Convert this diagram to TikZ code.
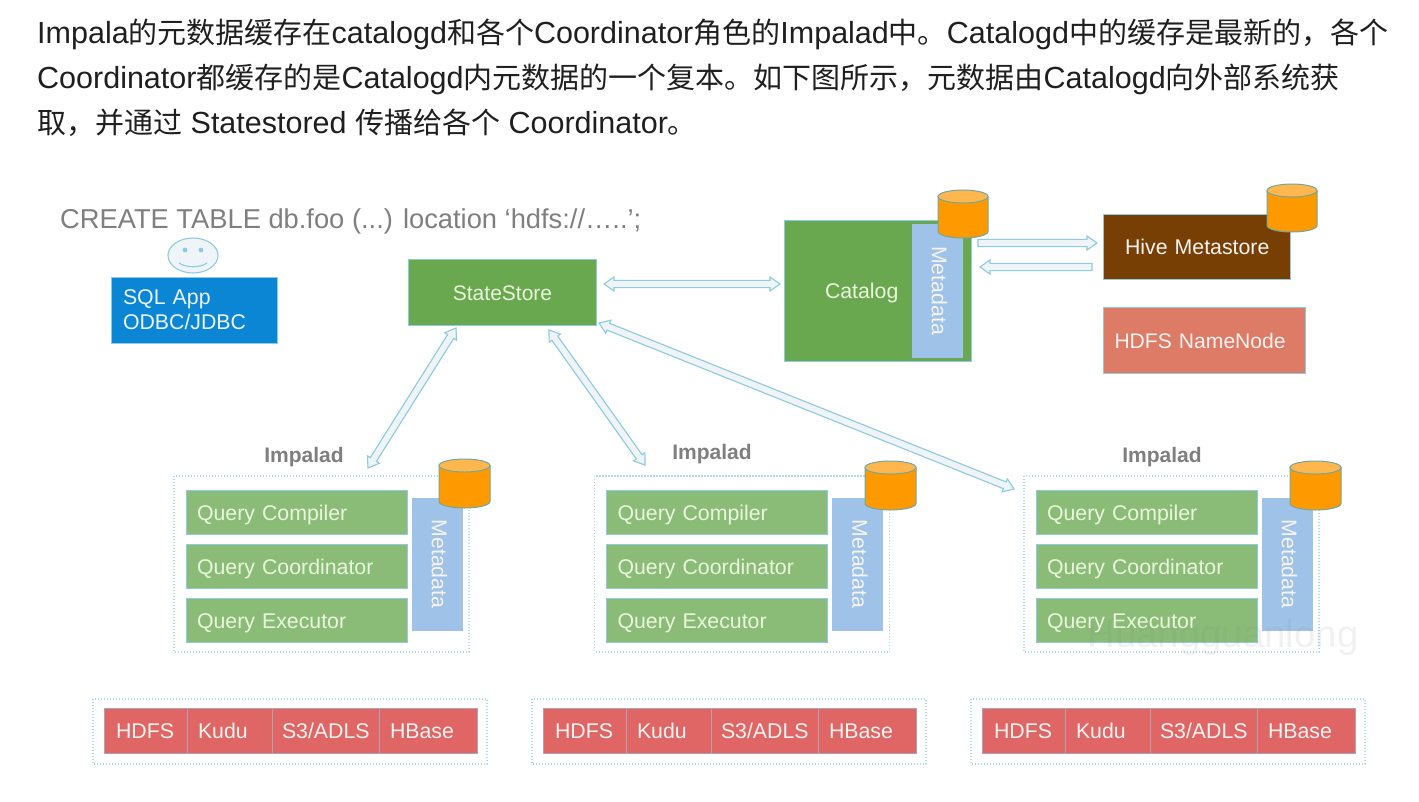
\documentclass[tikz,border=0pt]{standalone}
\usepackage{fontspec}
\setmainfont{Liberation Sans}
\newfontfamily\cjk{Noto Sans CJK SC}
\usetikzlibrary{calc}
\newcommand\fs[1]{\fontsize{#1}{#1}\selectfont}
\newcommand\zh[1]{{\cjk\fs{29}#1}}
\definecolor{edgeblue}{HTML}{8CCBE0}
\definecolor{arrowfill}{HTML}{EEF4F8}
\definecolor{querygreen}{HTML}{8ABC78}
\definecolor{darkgreen}{HTML}{69A84F}
\definecolor{metablue}{HTML}{9FC3E8}
\definecolor{sqlblue}{HTML}{0A86D4}
\definecolor{hivebrown}{HTML}{783F04}
\definecolor{nnsalmon}{HTML}{DD7B66}
\definecolor{storered}{HTML}{E06666}
\definecolor{cylorange}{HTML}{FF9900}
\definecolor{cyltop}{HTML}{FFB74D}
\definecolor{cyledge}{HTML}{6FA8A0}
\definecolor{softgreen}{HTML}{EAF6DC}
\definecolor{softwhite}{HTML}{F7F3F0}
\definecolor{labelgrey}{HTML}{7F7F7F}
\tikzset{
  boxnode/.style={draw=edgeblue,line width=.9pt,font=\fs{21.3},outer sep=0pt},
  lowered/.style={text height=16pt,text depth=0pt},
  querybox/.style={boxnode,lowered,fill=querygreen,text=softgreen,align=left},
  metabox/.style={draw=metablue,fill=metablue,text=softwhite,font=\fs{21.3},inner sep=0pt,outer sep=0pt,text height=15pt,text depth=4.5pt},
  cellbox/.style={boxnode,lowered,fill=storered,text=softwhite,align=left,draw=edgeblue!60!storered},
  dotbox/.style={draw=edgeblue!70,line width=1.2pt,dash pattern=on 1.4pt off 1.6pt},
  grouplabel/.style={font=\bfseries\fs{21},text=labelgrey,inner sep=0pt},
  topline/.style={font=\fs{30.5},text=black!88,anchor=base west,inner sep=0pt},
  blockedge/.style={draw=edgeblue,fill=arrowfill,line width=1.1pt,line join=miter},
}
% box from corner coordinates: style, name, x1,y1,x2,y2, text padding, text
\newcommand\bx[8]{%
  \pgfmathsetmacro\bw{#5-#3}\pgfmathsetmacro\bh{#6-#4}%
  \pgfmathsetmacro\bcx{(#3+#5)/2}\pgfmathsetmacro\bcy{(#4+#6)/2}%
  \pgfmathsetmacro\tw{\bw-2*#7}%
  \node[inner xsep=#7pt,inner ysep=0pt,minimum width=\bw pt,minimum height=\bh pt,text width=\tw pt,#1] (#2) at (\bcx,\bcy) {#8};}
% two-headed hollow arrow between named coordinates
\newcommand\twoway[2]{%
  \path ($(#1)!10pt!(#2)$) coordinate (ha) ($(#2)!10pt!(#1)$) coordinate (hb);
  \draw[blockedge] (#1) -- ($(ha)!7pt!90:(#2)$) -- ($(ha)!3.6pt!90:(#2)$) -- ($(hb)!3.6pt!-90:(#1)$) -- ($(hb)!7pt!-90:(#1)$) -- (#2)
     -- ($(hb)!7pt!90:(#1)$) -- ($(hb)!3.6pt!90:(#1)$) -- ($(ha)!3.6pt!-90:(#2)$) -- ($(ha)!7pt!-90:(#2)$) -- cycle;}
% one-headed hollow arrow
\newcommand\oneway[2]{%
  \path ($(#2)!10pt!(#1)$) coordinate (hb);
  \draw[blockedge] ($(#1)!3.6pt!90:(#2)$) -- ($(hb)!3.6pt!-90:(#1)$) -- ($(hb)!7pt!-90:(#1)$) -- (#2)
     -- ($(hb)!7pt!90:(#1)$) -- ($(hb)!3.6pt!90:(#1)$) -- ($(#1)!3.6pt!-90:(#2)$) -- cycle;}
% database cylinder: x1,x2,ytop,ybottom
\newcommand\dbcyl[4]{%
  \pgfmathsetmacro\cxm{(#1+#2)/2}\pgfmathsetmacro\crx{(#2-#1)/2}%
  \pgfmathsetmacro\ctop{#3+6.5}\pgfmathsetmacro\cbot{#4-6.5}%
  \draw[draw=cyledge,fill=cylorange,line width=1pt] (#1,\ctop) -- (#1,\cbot) arc[start angle=180,end angle=360,x radius=\crx pt,y radius=6.5pt] -- (#2,\ctop) -- cycle;
  \draw[draw=cyledge,fill=cyltop,line width=1pt] (\cxm,\ctop) ellipse[x radius=\crx pt,y radius=6.5pt];}
% one Impalad group: id, dx, label x, label y, cylinder x1, cylinder ytop
\newcommand\impala[6]{%
  \pgfmathsetmacro\xa{174+#2}\pgfmathsetmacro\xb{469+#2}%
  \draw[dotbox] (\xa,476) rectangle (\xb,652);
  \node[grouplabel] (#1label) at (#3,#4) {Impalad};
  \pgfmathsetmacro\qa{186+#2}\pgfmathsetmacro\qb{407+#2}%
  \bx{querybox}{#1comp}{\qa}{490}{\qb}{534}{11}{Query Compiler}
  \bx{querybox}{#1coord}{\qa}{544}{\qb}{588}{11}{Query Coordinator}
  \bx{querybox}{#1exec}{\qa}{598}{\qb}{642}{11}{Query Executor}
  \pgfmathsetmacro\mx{437+#2}%
  \node[metabox,rotate=-90,minimum width=132pt,minimum height=50pt] (#1meta) at (\mx,564) {Metadata};
  \pgfmathsetmacro\cyb{#5+51}\pgfmathsetmacro\cyc{#6+49}%
  \dbcyl{#5}{\cyb}{#6}{\cyc}}
% storage row: id, dx
\newcommand\storage[2]{%
  \pgfmathsetmacro\xa{93+#2}\pgfmathsetmacro\xb{487+#2}%
  \draw[dotbox] (\xa,699) rectangle (\xb,764);
  \pgfmathsetmacro\ca{104+#2}\pgfmathsetmacro\cb{187+#2}\pgfmathsetmacro\cc{272+#2}\pgfmathsetmacro\cd{379+#2}\pgfmathsetmacro\ce{477+#2}%
  \edef\pa{\ca}\edef\pb{\cb}\edef\pc{\cc}\edef\pd{\cd}\edef\pe{\ce}%
  \bx{cellbox}{#1hdfs}{\pa}{708}{\pb}{753}{12}{HDFS}
  \bx{cellbox}{#1kudu}{\pb}{708}{\pc}{753}{11}{Kudu}
  \bx{cellbox}{#1s3}{\pc}{708}{\pd}{753}{10}{S3/ADLS}
  \bx{cellbox}{#1hbase}{\pd}{708}{\pe}{753}{11}{HBase}}
\begin{document}
\begin{tikzpicture}[x=1pt,y=-1pt]
\useasboundingbox (0,0) rectangle (1419,801);
\fill[white] (0,0) rectangle (1419,801);
% heading paragraph
\node[topline] (line1) at (37,43) {Impala\zh{的元数据缓存在}catalogd\zh{和各个}Coordinator\zh{角色的}Impalad\zh{中。}Catalogd\zh{中的缓存是最新的，各个}};
\node[topline] (line2) at (37,88) {Coordinator\zh{都缓存的是}Catalogd\zh{内元数据的一个复本。如下图所示，元数据由}Catalogd\zh{向外部系统获}};
\node[topline] (line3) at (37,133) {\zh{取，并通过} Statestored \zh{传播给各个} Coordinator\zh{。}};
% client
\node[font=\fs{27.3},text=labelgrey,anchor=base west,inner sep=0pt] (create) at (60,228) {CREATE TABLE db.foo (...) location ‘hdfs://…..’;};
\draw[draw=edgeblue,fill=arrowfill,line width=1.1pt] (193,255.5) ellipse[x radius=25pt,y radius=17.5pt];
\fill[edgeblue] (185,250) circle (2.4pt) (201,250) circle (2.4pt);
\draw[edgeblue,line width=1.1pt] (179,263) .. controls (186,268) and (200,268) .. (207,263);
\bx{boxnode,fill=sqlblue,text=arrowfill,align=left}{sql}{111.5}{277}{277}{343}{11.5}{SQL App\\[4pt]ODBC/JDBC}
% upper services
\bx{boxnode,lowered,fill=darkgreen,text=softgreen,align=center,font=\fs{21}}{state}{408.5}{259.5}{596.5}{325}{0}{StateStore}
\bx{boxnode,lowered,fill=darkgreen,text=softgreen,align=left}{catalog}{784}{220}{971}{361}{41}{Catalog}
\node[metabox,rotate=-90,minimum width=133pt,minimum height=50pt] (catmeta) at (937,290.5) {Metadata};
\dbcyl{938}{988}{190}{238}
\bx{boxnode,lowered,fill=hivebrown,text=softwhite,align=left}{hive}{1103}{214}{1290}{279.5}{12}{\hspace*{10pt}Hive Metastore}
\dbcyl{1267}{1317}{184}{232}
\bx{boxnode,lowered,fill=nnsalmon,text=softwhite,align=left,font=\fs{21.1}}{namenode}{1103}{307}{1305}{373}{11.5}{HDFS NameNode}
% impalad groups
\impala{a}{0}{304}{457}{439}{459}
\impala{b}{420.5}{712}{454}{865}{461}
\impala{c}{850}{1162}{457}{1290}{461}
\storage{sa}{0}
\storage{sb}{439}
\storage{sc}{878}
% connectors
\coordinate (s2c) at (604,284);
\coordinate (c2s) at (780,284);
\twoway{s2c}{c2s}
\coordinate (c2h) at (978,243);
\coordinate (h2ca) at (1097,243);
\oneway{c2h}{h2ca}
\coordinate (h2c) at (1092,267);
\coordinate (h2cb) at (980,267);
\oneway{h2c}{h2cb}
\coordinate (sa1) at (456,328);
\coordinate (ia1) at (368,468);
\twoway{sa1}{ia1}
\coordinate (sb1) at (549,330);
\coordinate (ib1) at (645,465);
\twoway{sb1}{ib1}
\coordinate (sc1) at (599,323);
\coordinate (ic1) at (1014,489);
\twoway{sc1}{ic1}
% watermark
\node[font=\fs{38.4},text=gray,text opacity=.11,inner sep=0pt] (mark) at (1223,638) {Huangguanlong};
\end{tikzpicture}
\end{document}
